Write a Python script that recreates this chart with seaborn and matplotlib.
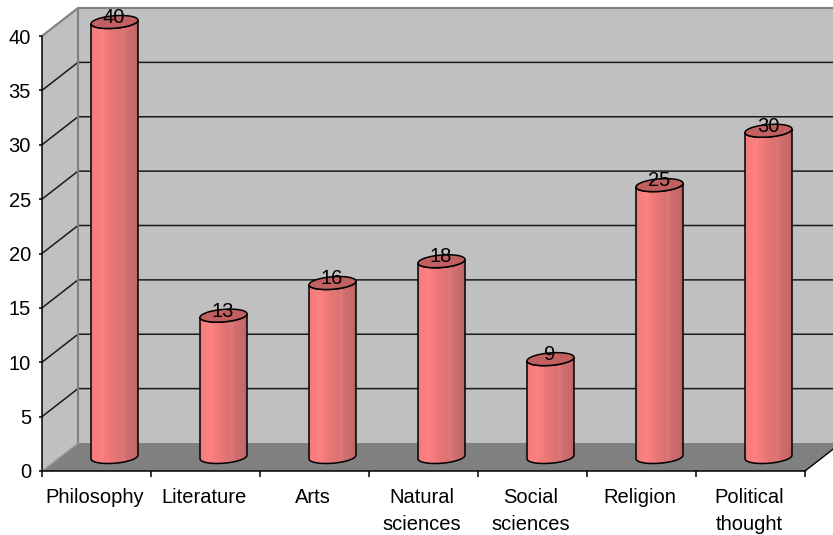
import numpy as np
import pandas as pd
import matplotlib
matplotlib.use("Agg")
import matplotlib.pyplot as plt
from matplotlib.patches import Polygon, PathPatch
from matplotlib.path import Path
from matplotlib.colors import to_rgb
import seaborn as sns

categories = ["Philosophy", "Literature", "Arts", "Natural\nsciences",
              "Social\nsciences", "Religion", "Political\nthought"]
values = [40, 13, 16, 18, 9, 25, 30]
y_ticks = [0, 5, 10, 15, 20, 25, 30, 35, 40]

sns.set_style("white")
plt.rcParams["font.family"] = ["Liberation Sans", "DejaVu Sans"]
plt.rcParams["font.size"] = 14.5

W, H = 833, 535
fig = plt.figure(figsize=(W / 100, H / 100), dpi=100, facecolor="white")
# front plane of the 3-D box: 42..805 px across, 36..471 px down
ax = fig.add_axes([42 / W, (H - 471) / H, 763 / W, 435 / H])
ax.patch.set_alpha(0)

df = pd.DataFrame({"category": categories, "value": values})
sns.barplot(data=df, x="category", y="value", ax=ax, width=47 / 109,
            color="#ff8080", linewidth=0, saturation=1, zorder=3)
ax.set_xlim(-0.5, 6.5)
ax.set_ylim(0, 40)
ax.set_xlabel("")
ax.set_ylabel("")

# one pixel in data units on each axis
ux = 7 / 763
uy = 40 / 435
depth_x, depth_y = 36 * ux, 28 * uy
x0, x1 = -0.5, 6.5

# walls and floor of the box
wall_grey = "#c0c0c0"
edge_grey = "#808080"
ax.add_patch(Polygon([(x0, 0), (x0 + depth_x, depth_y), (x0 + depth_x, 40 + depth_y), (x0, 40)],
                     closed=True, fc=wall_grey, ec="none", clip_on=False, zorder=0))
ax.add_patch(Polygon([(x0 + depth_x, depth_y), (x1 + depth_x, depth_y),
                      (x1 + depth_x, 40 + depth_y), (x0 + depth_x, 40 + depth_y)],
                     closed=True, fc=wall_grey, ec="none", clip_on=False, zorder=0))
ax.add_patch(Polygon([(x0, 0), (x1, 0), (x1 + depth_x, depth_y), (x0 + depth_x, depth_y)],
                     closed=True, fc=edge_grey, ec="none", clip_on=False, zorder=0.5))

# gridlines run along the side wall and across the back wall
for v in y_ticks[1:-1]:
    ax.plot([x0, x0 + depth_x, x1 + depth_x], [v, v + depth_y, v + depth_y],
            color="#1a1a1a", lw=1.1, clip_on=False, zorder=1, solid_joinstyle="miter")
ax.plot([x0, x0 + depth_x, x1 + depth_x], [40, 40 + depth_y, 40 + depth_y],
        color=edge_grey, lw=1.5, clip_on=False, zorder=1)
ax.plot([x0 + depth_x, x0 + depth_x], [depth_y, 40 + depth_y],
        color=edge_grey, lw=1.5, clip_on=False, zorder=1)
ax.plot([x0, x0 + depth_x], [0, depth_y], color="#a0a0a0", lw=1, clip_on=False, zorder=1)
ax.plot([x1, x1 + depth_x], [0, depth_y], color="black", lw=1, clip_on=False, zorder=1)

# shaded bands wrapped around each cylinder, left to right
band_hex = ["#f27c7c", "#f87e7e", "#fd8080", "#fd8080", "#f67c7c", "#ee7878", "#e87676",
            "#e27474", "#dc7272", "#da7676", "#d26e6e", "#cc6c6c", "#c86a6a", "#c06464"]
bands = np.array([[to_rgb(c) for c in band_hex]])

half_w = 23.5 * ux          # half cylinder width
skew_px = 6.5
skew_x, skew_y = skew_px * ux, skew_px * uy
axis_px = np.sqrt(23.5 ** 2 - skew_px ** 2)
axis_a = axis_px * ux
shift_x, shift_y = 18 * ux, 14 * uy


def rim(cx, cy, t):
    """Points on a cylinder's elliptical rim."""
    return (cx + axis_a * np.cos(t) + skew_x * np.sin(t), cy + skew_y * np.sin(t))


for bar, value in zip(ax.patches, values):
    # stand the bar on the floor, halfway back in the box
    bar.set_x(bar.get_x() + shift_x)
    bar.set_y(shift_y)
    cx = bar.get_x() + bar.get_width() / 2
    top = value + shift_y
    t_tan = np.arctan2(skew_px, axis_px)
    # lower half of each rim, from the left tangent round to the right tangent
    t = np.linspace(np.pi + t_tan, 2 * np.pi + t_tan, 60)
    bx, by = rim(cx, shift_y, t)
    tx, ty = rim(cx, top, t)
    body = np.column_stack([np.r_[bx, tx[::-1], bx[0]], np.r_[by, ty[::-1], by[0]]])
    body_patch = PathPatch(Path(body), fc="none", ec="none", zorder=4, clip_on=False)
    ax.add_patch(body_patch)
    im = ax.imshow(bands, extent=(cx - half_w, cx + half_w, 0, top + 1), aspect="auto",
                   interpolation="nearest", zorder=4)
    im.set_clip_box(fig.bbox)
    im.set_clip_path(body_patch)
    ax.add_patch(PathPatch(Path(body), fc="none", ec="black", lw=1.1, zorder=5, clip_on=False))
    # lid
    t_full = np.linspace(0, 2 * np.pi, 90)
    lx, ly = rim(cx, top, t_full)
    ax.add_patch(Polygon(np.column_stack([lx, ly]), closed=True, fc="#c06060", ec="black",
                         lw=1.1, zorder=6, clip_on=False))
    ax.text(cx - 0.5 * ux, top + 4.5 * uy, str(value), ha="center", va="center", fontsize=14.5,
            color="black", zorder=7, clip_on=False)

ax.set_xlim(x0, x1)
ax.set_ylim(0, 40)

# ticks at category boundaries, labels centred between them
pos = np.arange(len(categories))
ax.set_xticks(np.arange(len(categories) + 1) - 0.5)
ax.set_xticklabels([])
ax.set_xticks(pos - 1.5 * ux, minor=True)
ax.set_xticklabels(categories, minor=True, linespacing=1.55)
ax.set_yticks(y_ticks)
ax.tick_params(axis="x", which="major", length=4.5, width=1.1, color="black", bottom=True)
ax.tick_params(axis="x", which="minor", length=0, pad=12, labelcolor="black")
ax.tick_params(axis="y", length=2.5, width=1.1, color="black", left=True, pad=5.5, labelcolor="black")

sns.despine(ax=ax, top=True, right=True)
for side in ("left", "bottom"):
    ax.spines[side].set_color("black")
    ax.spines[side].set_linewidth(1.1)
    ax.spines[side].set_zorder(2)

fig.savefig("out.png", dpi=100)
